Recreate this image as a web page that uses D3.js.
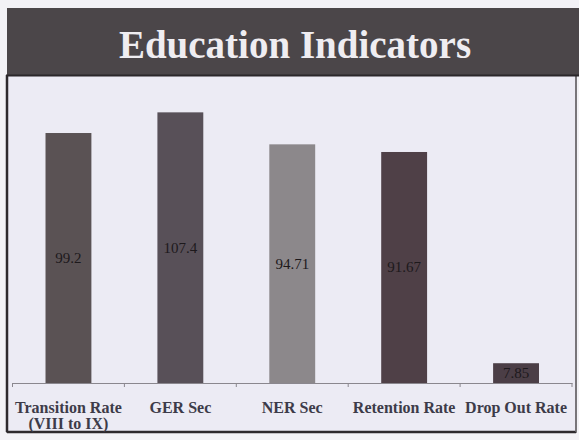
<!DOCTYPE html>
<html>
<head>
<meta charset="utf-8">
<script src="https://cdn.jsdelivr.net/npm/d3@7"></script>
<style>
html,body{margin:0;padding:0;background:#f2f1f6;}
svg{display:block;}
</style>
</head>
<body>
<svg id="chart" width="579" height="440"></svg>
<script>
const title = "Education Indicators";
const categories = ["Transition Rate\n(VIII to IX)", "GER Sec", "NER Sec", "Retention Rate", "Drop Out Rate"];
const values = [99.2, 107.4, 94.71, 91.67, 7.85];
const valueLabels = ["99.2", "107.4", "94.71", "91.67", "7.85"];
const barColors = ["#5a5254", "#585058", "#8c888b", "#4f4047", "#4b3e46"];

const svg = d3.select("#chart");
const W = 579, H = 440;

svg.append("rect").attr("x", 0).attr("y", 0).attr("width", W).attr("height", H).attr("fill", "#f3f2f6");
svg.append("rect").attr("x", 7).attr("y", 75).attr("width", 569).attr("height", 357)
  .attr("fill", "#ecebf4").attr("stroke", "#3a3639").attr("stroke-width", 1.5);
svg.append("line").attr("x1", 7).attr("x2", 7).attr("y1", 75).attr("y2", 432).attr("stroke", "#2e2a2d").attr("stroke-width", 2.5);
svg.append("line").attr("x1", 7).attr("x2", 576).attr("y1", 432).attr("y2", 432).attr("stroke", "#2e2a2d").attr("stroke-width", 2.5);
svg.append("line").attr("x1", 576).attr("x2", 576).attr("y1", 75).attr("y2", 432).attr("stroke", "#8a878c").attr("stroke-width", 1);

svg.append("rect").attr("x", 7).attr("y", 8).attr("width", 572).attr("height", 67).attr("fill", "#4b4649");
svg.append("line").attr("x1", 7).attr("x2", 579).attr("y1", 75.5).attr("y2", 75.5).attr("stroke", "#2b272a").attr("stroke-width", 2);
svg.append("text").attr("x", 295).attr("y", 58).attr("text-anchor", "middle")
  .attr("font-family", "'Liberation Serif','DejaVu Serif',serif").attr("font-weight", "bold")
  .attr("font-size", 39).attr("fill", "#efedf1").text(title);

const x = d3.scaleBand().domain(d3.range(categories.length)).range([12.5, 572])
  .paddingInner(0.59).paddingOuter(0.295);
const y = d3.scaleLinear().domain([0, 120]).range([383, 80.6]);

svg.append("g").selectAll("rect").data(values).join("rect")
  .attr("x", (d, i) => x(i)).attr("width", x.bandwidth())
  .attr("y", d => y(d)).attr("height", d => y(0) - y(d))
  .attr("fill", (d, i) => barColors[i]);

svg.append("g").selectAll("text").data(values).join("text")
  .attr("x", (d, i) => x(i) + x.bandwidth() / 2)
  .attr("y", d => (y(d) + y(0)) / 2 + 5)
  .attr("text-anchor", "middle")
  .attr("font-family", "'Liberation Serif','DejaVu Serif',serif")
  .attr("font-size", 15).attr("fill", "#1d191c")
  .text((d, i) => valueLabels[i]);

const axis = d3.axisBottom(x).tickSize(0).tickFormat("");
const ag = svg.append("g").attr("transform", `translate(0,${y(0)})`).call(axis);
ag.select(".domain").attr("stroke", "#8a878e").attr("stroke-width", 1.2);
const step = x.step();
const bounds = d3.range(categories.length + 1).map(i => 12.5 + i * step);
ag.selectAll(".bnd").data(bounds).join("line").attr("class", "bnd")
  .attr("x1", d => d).attr("x2", d => d).attr("y1", 0).attr("y2", 4)
  .attr("stroke", "#8a878e").attr("stroke-width", 1);

const cl = svg.append("g").selectAll("text").data(categories).join("text")
  .attr("x", (d, i) => x(i) + x.bandwidth() / 2)
  .attr("y", 413)
  .attr("text-anchor", "middle")
  .attr("font-family", "'Liberation Serif','DejaVu Serif',serif")
  .attr("font-weight", "bold").attr("font-size", 16).attr("fill", "#3d3b49");
cl.each(function(d) {
  const lines = d.split("\n");
  const t = d3.select(this);
  lines.forEach((ln, k) => {
    t.append("tspan").attr("x", t.attr("x")).attr("dy", k === 0 ? 0 : 16).text(ln);
  });
});
</script>
</body>
</html>
